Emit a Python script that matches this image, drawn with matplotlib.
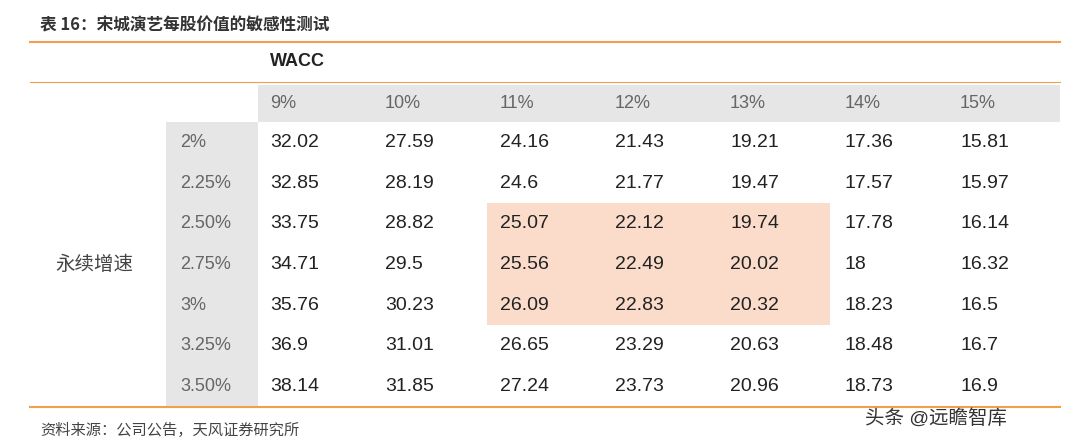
import matplotlib
matplotlib.use("Agg")
import matplotlib.pyplot as plt
from matplotlib.patches import Rectangle

plt.rcParams["font.family"] = ["Liberation Sans", "Noto Sans CJK SC", "DejaVu Sans"]

title = "表 16：宋城演艺每股价值的敏感性测试"
source = "资料来源：公司公告，天风证券研究所"
wacc = ["9%", "10%", "11%", "12%", "13%", "14%", "15%"]
growth = ["2%", "2.25%", "2.50%", "2.75%", "3%", "3.25%", "3.50%"]
values = [
    ["32.02", "27.59", "24.16", "21.43", "19.21", "17.36", "15.81"],
    ["32.85", "28.19", "24.6", "21.77", "19.47", "17.57", "15.97"],
    ["33.75", "28.82", "25.07", "22.12", "19.74", "17.78", "16.14"],
    ["34.71", "29.5", "25.56", "22.49", "20.02", "18", "16.32"],
    ["35.76", "30.23", "26.09", "22.83", "20.32", "18.23", "16.5"],
    ["36.9", "31.01", "26.65", "23.29", "20.63", "18.48", "16.7"],
    ["38.14", "31.85", "27.24", "23.73", "20.96", "18.73", "16.9"],
]
# highlighted block: rows 2-4, cols 2-4
hl_rows, hl_cols = (2, 4), (2, 4)

ORANGE = "#f0a04b"
GRAY = "#e6e6e6"
PEACH = "#fbdccb"

fig = plt.figure(figsize=(10.8, 4.48), dpi=100)
ax = fig.add_axes([0, 0, 1, 1])
ax.set_xlim(0, 1080)
ax.set_ylim(448, 0)
ax.axis("off")

col_x0, col_w = 258, 115
row_y0, row_h = 122, 40.7

ax.text(40, 25, title, fontsize=12, fontweight="bold", color="#333333", va="center",
        family=["Noto Sans CJK SC", "DejaVu Sans"])
ax.plot([30, 1060], [42, 42], color=ORANGE, lw=1.5)
ax.text(270, 62, "WACC", fontsize=13, fontweight="bold", color="#222222", va="center")
ax.plot([30, 1060], [82, 82], color=ORANGE, lw=0.8)

# header row
ax.add_patch(Rectangle((col_x0, 85), 1060 - col_x0, row_y0 - 85, color=GRAY, lw=0))
for j, w in enumerate(wacc):
    ax.text(col_x0 + 12 + j * col_w, 103, w, fontsize=13, color="#666666", va="center")

# left gray column
ax.add_patch(Rectangle((166, row_y0), col_x0 - 166, row_h * len(growth), color=GRAY, lw=0))

# highlight
r0, r1 = hl_rows
c0, c1 = hl_cols
ax.add_patch(Rectangle((col_x0 + c0 * col_w - 1, row_y0 + r0 * row_h),
                       (c1 - c0 + 1) * col_w - 2, (r1 - r0 + 1) * row_h, color=PEACH, lw=0))

for i, g in enumerate(growth):
    y = row_y0 + (i + 0.5) * row_h
    ax.text(180, y, g, fontsize=13, color="#666666", va="center")
    for j, v in enumerate(values[i]):
        ax.text(col_x0 + 12 + j * col_w, y, v, fontsize=14, color="#222222", va="center")

ax.text(55, row_y0 + 3.5 * row_h, "永续增速", fontsize=14, color="#444444", va="center")
ax.plot([30, 1060], [407, 407], color=ORANGE, lw=1.5)
ax.text(40, 430, source, fontsize=11, color="#444444", va="center")
ax.text(865, 418, "头条 @远瞻智库", fontsize=14, color="#333333", va="center")

fig.savefig("out.png", dpi=100)
